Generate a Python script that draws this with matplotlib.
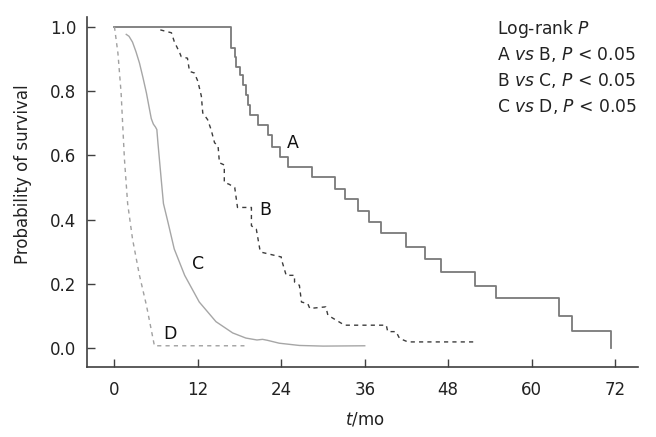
import matplotlib
matplotlib.use("Agg")
import matplotlib.pyplot as plt

plt.rcParams['font.family'] = ['DejaVu Sans']
plt.rcParams['mathtext.fontset'] = 'dejavusans'

# Curve A (Kaplan-Meier steps)
tA = [0, 16.8, 17.3, 17.5, 18.0, 18.5, 18.85, 19.2, 19.5, 20.6, 22.1, 22.7, 23.8, 25.0,
      28.4, 31.7, 33.1, 35.1, 36.6, 38.4, 42.0, 44.7, 46.9, 51.9, 54.9, 64.0, 65.8, 71.4]
sA = [1.0, 0.933, 0.907, 0.876, 0.850, 0.819, 0.788, 0.757, 0.726, 0.694, 0.663, 0.627, 0.596, 0.565,
      0.532, 0.494, 0.463, 0.427, 0.394, 0.359, 0.316, 0.277, 0.237, 0.194, 0.157, 0.100, 0.054, 0.0]

# Curve B
tB = [6.6, 8.2, 8.6, 9.4, 9.6, 10.5, 10.8, 11.5, 12.0, 12.5, 12.7, 13.4, 13.9, 14.4, 14.9, 15.1,
      15.8, 15.8, 16.5, 17.3, 17.7, 19.7, 19.7, 20.4, 20.9, 21.1, 24.0, 24.0, 24.7, 25.9, 25.9,
      26.6, 26.9, 27.8, 28.1, 30.4, 30.7, 33.1, 39.1, 39.3, 40.5, 41.0, 42.2, 52.0]
sB = [0.990, 0.981, 0.954, 0.918, 0.907, 0.902, 0.861, 0.856, 0.830, 0.784, 0.732, 0.711, 0.680,
      0.639, 0.630, 0.577, 0.570, 0.516, 0.510, 0.500, 0.438, 0.438, 0.381, 0.371, 0.309, 0.299,
      0.284, 0.278, 0.227, 0.227, 0.206, 0.196, 0.144, 0.139, 0.124, 0.129, 0.103, 0.072, 0.072,
      0.052, 0.052, 0.031, 0.020, 0.020]

# Curve C
tC = [1.7, 2.1, 2.6, 3.1, 3.6, 4.1, 4.6, 5.0, 5.3, 5.6, 5.9, 6.1, 6.25, 6.5, 6.75, 7.05, 7.7, 8.6,
      10.1, 12.2, 14.6, 17.0, 18.9, 20.5, 21.3, 22.0, 23.7, 26.6, 30.0, 36.0]
sC = [0.976, 0.970, 0.952, 0.922, 0.887, 0.842, 0.794, 0.748, 0.714, 0.697, 0.688, 0.680, 0.640,
      0.580, 0.520, 0.450, 0.392, 0.309, 0.227, 0.144, 0.083, 0.048, 0.032, 0.026, 0.028, 0.025,
      0.016, 0.009, 0.007, 0.008]

# Curve D
tD = [0.0, 0.5, 0.96, 1.2, 1.44, 1.9, 2.6, 3.6, 4.6, 5.75, 18.7]
sD = [1.0, 0.918, 0.794, 0.69, 0.588, 0.45, 0.340, 0.227, 0.134, 0.008, 0.008]

xticks = [0, 12, 24, 36, 48, 60, 72]
yticks = [0.0, 0.2, 0.4, 0.6, 0.8, 1.0]

curve_labels = ["A", "B", "C", "D"]
label_pos = [(25.65, 0.637), (21.7, 0.430), (11.98, 0.263), (8.0, 0.046)]

stats_lines = [r"Log-rank $\it{P}$",
               r"A $\it{vs}$ B, $\it{P}$ < 0.05",
               r"B $\it{vs}$ C, $\it{P}$ < 0.05",
               r"C $\it{vs}$ D, $\it{P}$ < 0.05"]

fig = plt.figure(figsize=(6.56, 4.37), dpi=100)
ax = fig.add_axes([0.1331, 0.1609, 0.9726 - 0.1331, 0.9618 - 0.1609])

ax.plot(tA, sA, drawstyle='steps-post', color='#7a7a7a', lw=1.3)
ax.plot(tB, sB, color='#3c3c3c', lw=1.0, ls=(0, (3, 3)))
ax.plot(tC, sC, color='#a6a6a6', lw=1.0)
ax.plot(tD, sD, color='#a0a0a0', lw=1.0, ls=(0, (3, 3)))

for lab, (x, y) in zip(curve_labels, label_pos):
    ax.text(x, y, lab, fontsize=12.5, ha='center', va='center', color='#111111')

ax.set_xlim(-3.9, 75.3)
ax.set_ylim(-0.057, 1.031)
ax.set_xticks(xticks)
ax.set_xticklabels([str(v) for v in xticks])
ax.set_yticks(yticks)
ax.set_yticklabels([f"{v:.1f}" for v in yticks])

for s in ['top', 'right']:
    ax.spines[s].set_visible(False)
for s in ['left', 'bottom']:
    ax.spines[s].set_color('#404040')
    ax.spines[s].set_linewidth(1.2)

ax.tick_params(direction='in', length=5.5, width=1.0, color='#404040',
               labelsize=12, labelcolor='#222222')
ax.tick_params(axis='x', pad=10)
ax.tick_params(axis='y', pad=8)

ax.set_xlabel(r"$\it{t}$/mo", fontsize=12, color='#222222')
ax.set_ylabel("Probability of survival", fontsize=12, color='#222222')
ax.xaxis.set_label_coords(0.504, -0.125)
ax.yaxis.set_label_coords(-0.1, 0.55)

baselines = [34.5, 60.5, 86.5, 112.5]
for txt, yb in zip(stats_lines, baselines):
    fig.text(497 / 656, 1 - yb / 437, txt, fontsize=12.3, ha='left', va='baseline',
             color='#222222')

fig.savefig("out.png", dpi=100)
